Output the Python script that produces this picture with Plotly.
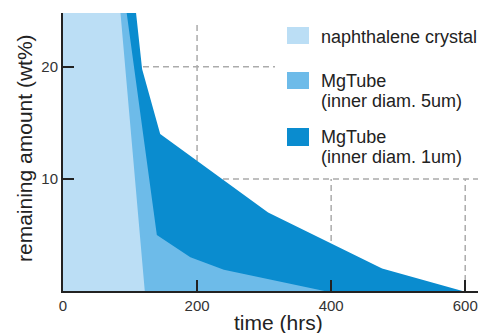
import plotly.graph_objects as go

# ---- data ----
crystal_x = [0, 84, 122]
crystal_y = [100, 26, 0]

tube5_x = [0, 90, 140, 190, 240, 390]
tube5_y = [100, 27, 5, 3, 1.9, 0]

tube1_x = [0, 105, 118, 145, 306, 476, 596]
tube1_y = [100, 27, 19.8, 14, 7.0, 2.0, 0]

x_ticks = [0, 200, 400, 600]
y_ticks = [10, 20]

colors = ["#bbdef5", "#6dbbe9", "#0a8ccf"]

# page has an 8px body margin; size the figure so the plot lands where the reference has it
OFF = 8
SW, SH = 486, 333            # screen size
SL, ST, SB = 63, 13, 291     # plot left / top / bottom on screen
W, H = SW - OFF, SH - OFF
L, T = SL - OFF, ST - OFF
B = H - (SB - OFF)
R = 0
PW, PH = W - L - R, H - T - B


def px(xp):
    return (xp - SL) / PW


def py(yp):
    return (SB - yp) / PH


fig = go.Figure()
for xs, ys, c in [(tube1_x, tube1_y, colors[2]), (tube5_x, tube5_y, colors[1]),
                  (crystal_x, crystal_y, colors[0])]:
    fig.add_trace(go.Scatter(x=xs, y=ys, mode="none", fill="tozeroy",
                             fillcolor=c, showlegend=False, hoverinfo="skip"))

grid = dict(color="#ababab", width=1.5, dash="6px,4px")
shapes = [
    dict(type="line", x0=200, x1=200, y0=0, y1=23.8, xref="x", yref="y", line=grid, layer="below"),
    dict(type="line", x0=400, x1=400, y0=0, y1=10, xref="x", yref="y", line=grid, layer="below"),
    dict(type="line", x0=600, x1=600, y0=0, y1=10, xref="x", yref="y", line=grid, layer="below"),
    dict(type="line", x0=0, x1=1, y0=10, y1=10, xref="paper", yref="y", line=grid, layer="below"),
    dict(type="line", x0=0, x1=px(275), y0=20, y1=20, xref="paper", yref="y", line=grid, layer="below"),
]

# legend swatches
sw = [(27, 44), (72, 89), (128, 146)]
for (a, b), c in zip(sw, colors):
    shapes.append(dict(type="rect", xref="paper", yref="paper", x0=px(287), x1=px(309),
                       y0=py(b), y1=py(a), fillcolor=c, line=dict(width=0)))

annots = []
text_lines = [(37, "naphthalene crystal"), (81, "MgTube"), (101, "(inner diam. 5um)"),
              (137, "MgTube"), (157, "(inner diam. 1um)")]
for yc, t in text_lines:
    annots.append(dict(text=t, xref="paper", yref="paper", x=px(319), y=py(yc),
                       xanchor="left", yanchor="middle", showarrow=False,
                       font=dict(size=18, color="#222")))

annots.append(dict(text="time (hrs)", xref="paper", yref="paper", x=px(278), y=py(322),
                   xanchor="center", yanchor="middle", showarrow=False,
                   font=dict(size=21, color="#222")))
annots.append(dict(text="remaining amount (wt%)", xref="paper", yref="paper", x=px(24), y=py(148),
                   xanchor="center", yanchor="middle", showarrow=False, textangle=-90,
                   font=dict(size=21, color="#222")))

fig.update_layout(
    width=W, height=H,
    margin=dict(l=L, r=R, t=T, b=B),
    paper_bgcolor="white", plot_bgcolor="white",
    font=dict(family="Liberation Sans, Arial, sans-serif", color="#222"),
    shapes=shapes, annotations=annots,
)
fig.update_xaxes(range=[0, 631], tickvals=x_ticks, ticks="inside", ticklen=11, tickwidth=2,
                 tickcolor="#222", showline=True, linecolor="#222", linewidth=2,
                 showgrid=False, zeroline=False, tickfont=dict(size=15, color="#333"))
fig.update_yaxes(range=[0, 24.8], tickvals=y_ticks, ticks="inside", ticklen=11, tickwidth=2,
                 tickcolor="#222", showline=True, linecolor="#222", linewidth=2,
                 showgrid=False, zeroline=False, tickfont=dict(size=15, color="#333"))

fig.write_html("out.html")
